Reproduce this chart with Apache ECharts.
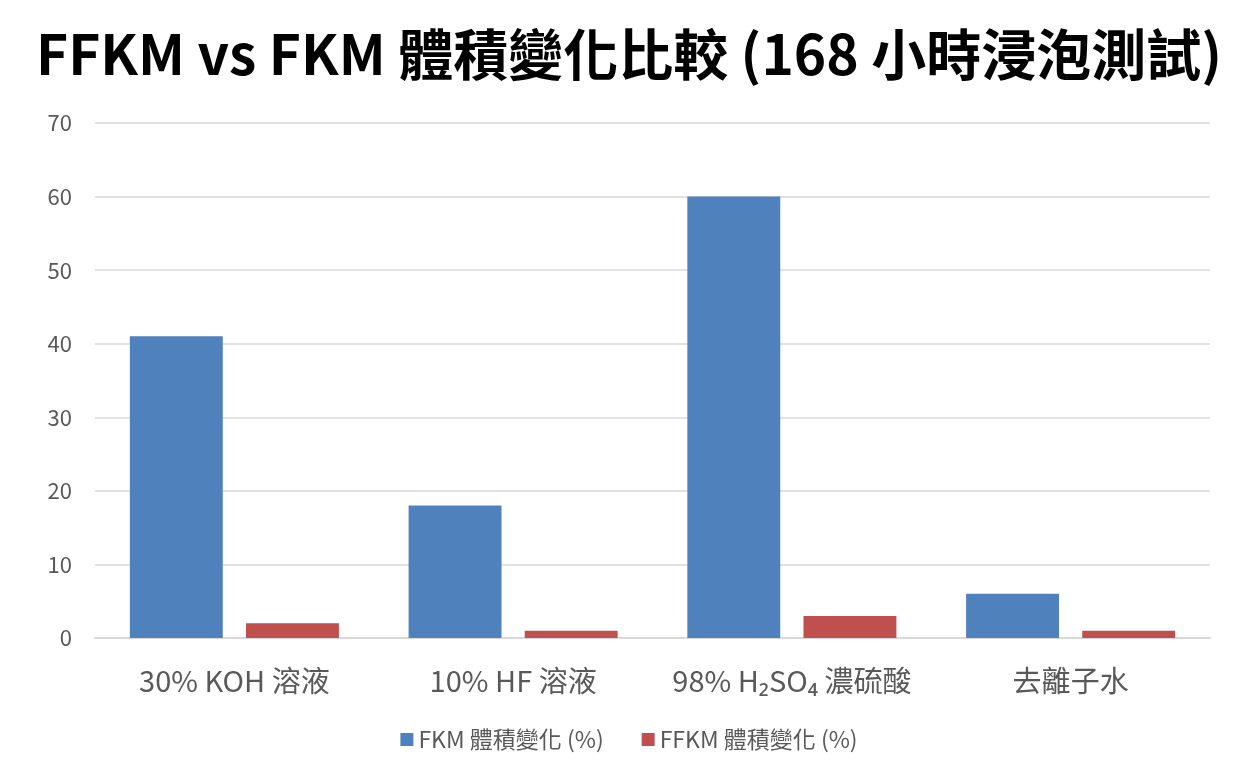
<!DOCTYPE html>
<html>
<head>
<meta charset="utf-8">
<script src="https://cdn.jsdelivr.net/npm/echarts@6/dist/echarts.min.js"></script>
<style>
  html, body { margin: 0; padding: 0; background: #fff; }
  #chart { width: 1258px; height: 772px; }
</style>
</head>
<body>
<div id="chart"></div>
<script>
var categories = ['30% KOH 溶液', '10% HF 溶液', '98% H₂SO₄ 濃硫酸', '去離子水']
var fkmValues = [41, 18, 60, 6]
var ffkmValues = [2, 1, 3, 1]
var seriesNames = ['FKM 體積變化 (%)', 'FFKM 體積變化 (%)']

var font = '"Noto Sans CJK TC", "Noto Sans", sans-serif'
var chart = echarts.init(document.getElementById('chart'))

chart.setOption({
    animation: false,
    title: {
        text: 'FFKM vs FKM 體積變化比較 (168 小時浸泡測試)',
        left: 'center',
        top: 22,
        textStyle: { fontFamily: font, fontSize: 55, fontWeight: 'bold', color: '#000' }
    },
    legend: {
        bottom: 16,
        itemWidth: 13,
        itemHeight: 13,
        itemGap: 38,
        icon: 'rect',
        textStyle: { fontFamily: font, fontSize: 23, color: '#595959' },
        data: seriesNames
    },
    grid: { left: 95, right: 48, top: 123, bottom: 134, containLabel: false },
    xAxis: {
        type: 'category',
        data: categories,
        axisLine: { lineStyle: { color: '#d9d9d9', width: 2 } },
        axisTick: { show: false },
        axisLabel: { interval: 0, fontFamily: font, fontSize: 29, color: '#595959', margin: 28 }
    },
    yAxis: {
        type: 'value',
        min: 0,
        max: 70,
        interval: 10,
        axisLine: { show: false },
        axisTick: { show: false },
        splitLine: { lineStyle: { color: '#d9d9d9', width: 1.5 } },
        axisLabel: { fontFamily: font, fontSize: 22, color: '#595959', margin: 23 }
    },
    series: [
        {
            name: seriesNames[0],
            type: 'bar',
            data: fkmValues,
            barGap: '25%',
            barCategoryGap: '25%',
            itemStyle: { color: '#4F81BD' }
        },
        {
            name: seriesNames[1],
            type: 'bar',
            data: ffkmValues,
            itemStyle: { color: '#C0504D' }
        }
    ]
})
</script>
</body>
</html>
